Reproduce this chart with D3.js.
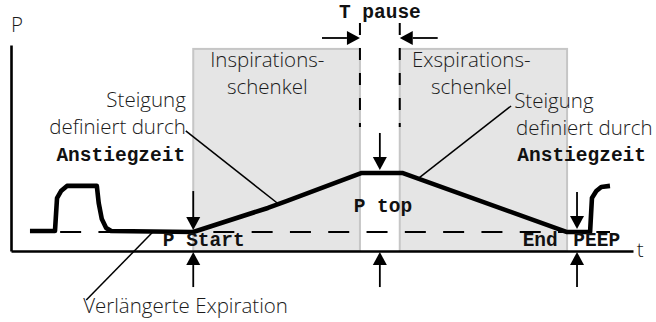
<!DOCTYPE html>
<html>
<head>
<meta charset="utf-8">
<script src="https://cdn.jsdelivr.net/npm/d3@7"></script>
<style>
    body { margin: 0; background: #fff; }
    svg { display: block; }
    .sans { font-family: "Open Sans", "Noto Sans", sans-serif; font-size: 20.5px; font-weight: 300; fill: #1a1a1a; }
    .mono { font-family: "Liberation Mono", "Courier New", monospace; font-size: 19.5px; font-weight: bold; fill: #111; }
</style>
</head>
<body>
<div id="chart"></div>
<script>
// time and pressure in arbitrary units (0..100)
const waveT = [3.05, 7.07, 7.4, 8.04, 9.0, 13.8, 14.1, 14.6, 15.3, 16.1, 29.3, 41.3, 44.4, 56.4, 62.9, 89.4, 93.1, 93.4, 94.1, 94.9, 96.3];
const waveP = [9.7, 9.7, 25.7, 29.1, 31.6, 31.6, 23.3, 15.5, 11.2, 9.7, 9.2, 20.9, 24.3, 37.9, 37.9, 9.2, 9.2, 25.7, 29.1, 31.1, 31.6];
const peepLevel = 9.2;
const peepDashFrom = 7.9;
const peepDashTo = 96.3;

const phaseLabels = [["Inspirations-", "schenkel"], ["Exspirations-", "schenkel"]];
const phaseStart = [29.3, 62.5];
const phaseEnd = [56.1, 89.4];
const phaseTop = 98.1;

// markers: P Start, P top, End PEEP
const markerT = [29.3, 59.3, 91.0];
const markerDownFrom = [29.1, 57.3, 28.6];
const markerDownTo = [10.2, 39.3, 10.7];

function draw() {
    const width = 656, height = 322;
    const svg = d3.select("#chart").append("svg")
        .attr("width", width)
        .attr("height", height);

    const x = d3.scaleLinear().domain([0, 100]).range([11, 633]);
    const y = d3.scaleLinear().domain([0, 100]).range([251, 45]);

    // gray phase boxes
    svg.append("g")
        .selectAll("rect")
        .data(phaseStart)
        .enter().append("rect")
        .attr("x", (d) => x(d))
        .attr("y", y(phaseTop))
        .attr("width", (d, i) => x(phaseEnd[i]) - x(d))
        .attr("height", y(0) - y(phaseTop))
        .attr("fill", "#e5e5e5")
        .attr("stroke", "#c6c6c6")
        .attr("stroke-width", 2);

    // dashed pause boundaries
    svg.append("g")
        .selectAll("line")
        .data([phaseEnd[0], phaseStart[1]])
        .enter().append("line")
        .attr("x1", (d) => x(d)).attr("x2", (d) => x(d))
        .attr("y1", y(110.7)).attr("y2", y(60.2))
        .attr("stroke", "#000")
        .attr("stroke-width", 2)
        .attr("stroke-dasharray", "12,13");

    // axes (no ticks, just the lines)
    svg.append("g")
        .attr("transform", `translate(0,${y(0)})`)
        .call(d3.axisBottom(x).tickValues([]).tickSizeOuter(0))
        .call((g) => g.select(".domain").attr("stroke-width", 2.6));
    svg.append("g")
        .attr("transform", `translate(${x(0)},0)`)
        .call(d3.axisLeft(y).tickValues([]).tickSizeOuter(0))
        .call((g) => g.select(".domain").attr("stroke-width", 2.6));

    // PEEP baseline
    svg.append("line")
        .attr("x1", x(peepDashFrom)).attr("x2", x(peepDashTo))
        .attr("y1", y(peepLevel)).attr("y2", y(peepLevel))
        .attr("stroke", "#000")
        .attr("stroke-width", 2)
        .attr("stroke-dasharray", "21,17.3");

    // leader lines
    const leaders = [
        [[28.1, 58.3], [42.8, 23.3]],
        [[80.4, 70.4], [65.4, 35.0]],
        [[12.1, -23.8], [22.8, 9.2]]
    ];
    svg.append("g")
        .selectAll("line")
        .data(leaders)
        .enter().append("line")
        .attr("x1", (d) => x(d[0][0])).attr("y1", (d) => y(d[0][1]))
        .attr("x2", (d) => x(d[1][0])).attr("y2", (d) => y(d[1][1]))
        .attr("stroke", "#000")
        .attr("stroke-width", 1.5);

    // pressure curve
    const line = d3.line()
        .x((d) => x(d[0]))
        .y((d) => y(d[1]));
    svg.append("path")
        .datum(waveT.map((t, i) => [t, waveP[i]]))
        .attr("d", line)
        .attr("fill", "none")
        .attr("stroke", "#000")
        .attr("stroke-width", 4.6)
        .attr("stroke-linejoin", "round");

    // arrows
    function arrow(x1, y1, x2, y2) {
        const len = 13, half = 7;
        const dx = x2 - x1, dy = y2 - y1;
        const l = Math.sqrt(dx * dx + dy * dy);
        const ux = dx / l, uy = dy / l;
        const bx = x2 - ux * len, by = y2 - uy * len;
        svg.append("line")
            .attr("x1", x1).attr("y1", y1)
            .attr("x2", bx).attr("y2", by)
            .attr("stroke", "#000")
            .attr("stroke-width", 1.8);
        svg.append("path")
            .attr("d", `M${x2},${y2}L${bx - uy * half},${by + ux * half}L${bx + uy * half},${by - ux * half}Z`)
            .attr("fill", "#000");
    }
    markerT.forEach((t, i) => {
        arrow(x(t), y(markerDownFrom[i]), x(t), y(markerDownTo[i]));
        arrow(x(t), y(-17.5), x(t), y(-0.5));
    });
    arrow(x(50.0), y(103.4), x(phaseEnd[0]), y(103.4));
    arrow(x(68.6), y(103.4), x(phaseStart[1]), y(103.4));

    // texts
    function text(cls, t, p, anchor, s) {
        svg.append("text")
            .attr("class", cls)
            .attr("x", x(t)).attr("y", y(p))
            .attr("text-anchor", anchor)
            .text(s);
    }
    text("sans", 0, 106.3, "start", "P");
    text("sans", 100.6, -2.9, "start", "t");

    phaseLabels.forEach((lines, i) => {
        const cx = i === 0 ? 41.2 : 74.0;
        text("sans", cx, 89.3, "middle", lines[0]);
        text("sans", cx, 76.2, "middle", lines[1]);
    });

    text("sans", 28.1, 69.9, "end", "Steigung");
    text("sans", 28.1, 56.8, "end", "definiert durch");
    text("mono", 28.0, 43.7, "end", "Anstiegzeit");

    text("sans", 80.9, 69.4, "start", "Steigung");
    text("sans", 81.2, 56.3, "start", "definiert durch");
    text("mono", 81.4, 43.7, "start", "Anstiegzeit");

    text("mono", 59.3, 113.1, "middle", "T pause");
    text("mono", 24.4, 2.4, "start", "P Start");
    text("mono", 59.8, 18.9, "middle", "P top");
    text("mono", 87.9, 2.4, "end", "End");
    text("mono", 90.4, 2.4, "start", "PEEP");
    text("sans", 11.6, -30.1, "start", "Verlängerte Expiration");
}

draw();
</script>
</body>
</html>
